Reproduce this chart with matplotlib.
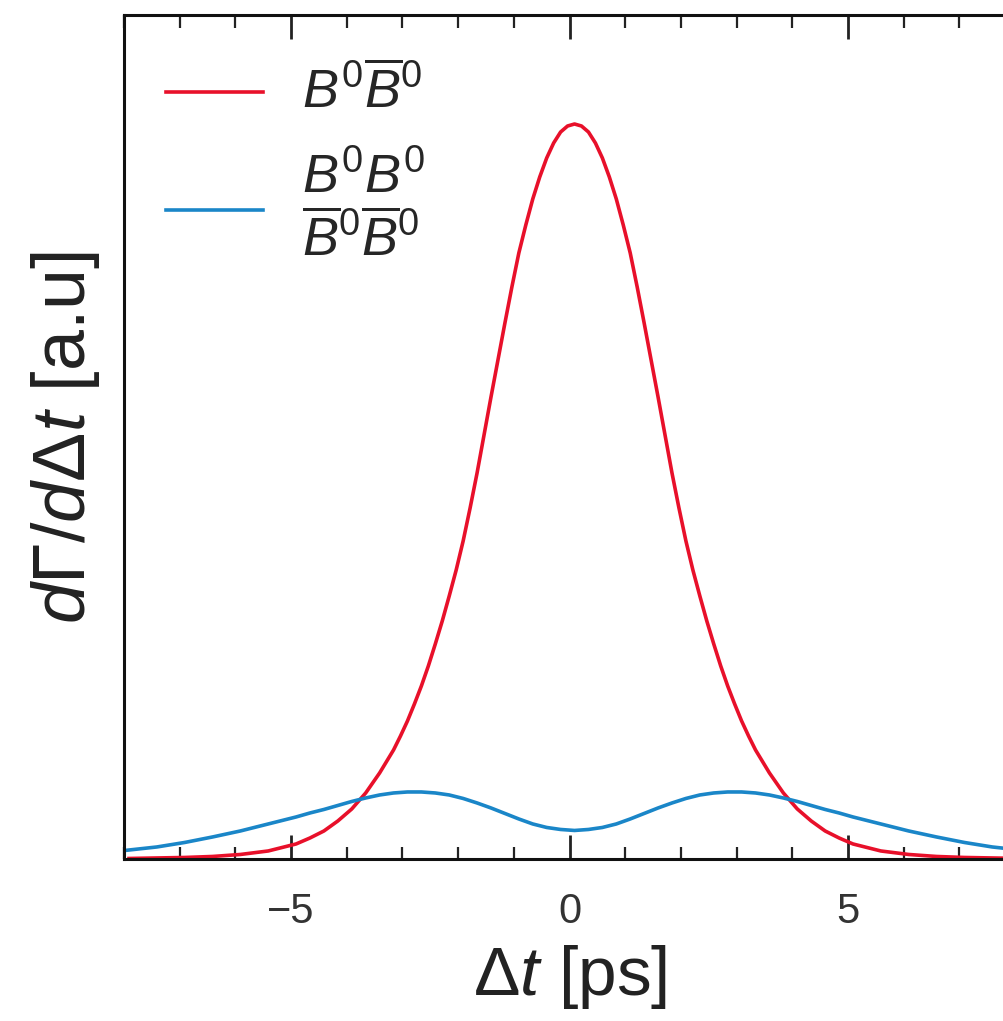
import matplotlib
matplotlib.use("Agg")
import matplotlib.pyplot as plt
from matplotlib.ticker import MultipleLocator
from matplotlib.legend_handler import HandlerLine2D

plt.rcParams['font.family'] = ['Liberation Sans', 'DejaVu Sans']
plt.rcParams['mathtext.fontset'] = 'custom'
plt.rcParams['mathtext.rm'] = 'Liberation Sans'
plt.rcParams['mathtext.it'] = 'Liberation Sans:italic'
plt.rcParams['mathtext.bf'] = 'Liberation Sans:bold'

# values (arbitrary units), curves peak near dt = 0.09 ps
t_mix = [-7.91, -6.91, -6.41, -5.91, -5.41, -4.91, -4.66, -4.41, -4.16, -3.91,
         -3.66, -3.41, -3.16, -3.035, -2.91, -2.785, -2.66, -2.535, -2.41,
         -2.285, -2.16, -2.035, -1.91, -1.785, -1.66, -1.41, -1.16, -1.035,
         -0.91, -0.785, -0.66, -0.535, -0.41, -0.285, -0.16, -0.035, 0.09,
         0.215, 0.34, 0.465, 0.59, 0.715, 0.84, 0.965, 1.09, 1.215, 1.34,
         1.59, 1.84, 1.965, 2.09, 2.215, 2.34, 2.465, 2.59, 2.715, 2.84,
         2.965, 3.09, 3.215, 3.34, 3.59, 3.84, 4.09, 4.34, 4.59, 4.84,
         5.09, 5.59, 6.09, 6.59, 7.09, 8.0]
rate_unmixed = [0.5, 1.5, 2.5, 4.5, 8, 15, 21, 28, 38, 50,
                66, 86, 109, 123, 138, 155, 173, 193, 215,
                238, 263, 289, 318, 351, 386, 462, 536, 572,
                606, 634, 660, 682, 701, 716, 727, 733, 735,
                733, 727, 716, 701, 682, 660, 634, 606, 572, 536,
                462, 386, 351, 318, 289, 263, 238, 215, 193, 173,
                155, 138, 123, 109, 86, 66, 50, 38, 28, 21,
                15, 8, 4.5, 2.5, 1.5, 0.6]

t_same = [-8.0, -7.41, -6.91, -6.41, -5.91, -5.41, -4.91, -4.66, -4.41, -4.16,
          -3.91, -3.66, -3.41, -3.16, -2.91, -2.66, -2.41, -2.16, -1.91,
          -1.66, -1.41, -1.16, -0.91, -0.66, -0.41, -0.16, 0.09, 0.34, 0.59,
          0.84, 1.09, 1.34, 1.59, 1.84, 2.09, 2.34, 2.59, 2.84, 3.09, 3.34,
          3.59, 3.84, 4.09, 4.34, 4.59, 4.84, 5.09, 5.59, 6.09, 6.59, 7.09,
          7.59, 8.0]
rate_same = [8.4, 12, 16.5, 22, 28, 35, 42, 46, 49.5, 53.5,
             57.5, 61, 64, 66, 67, 67, 66, 64, 60.5,
             56, 51, 45.5, 40, 35, 31.5, 29.5, 28.5, 29.5, 31.5,
             35, 40, 45.5, 51, 56, 60.5, 64, 66, 67, 67, 66,
             64, 61, 57.5, 53.5, 49.5, 46, 42, 35, 28, 22, 16.5,
             12, 9.5]

label_unmixed = r"$B^0\overline{B}^0$"
label_same = "$B^0B^0$\n" + r"$\overline{B}^0\overline{B}^0$"


class LoweredLine(HandlerLine2D):
    """legend line drawn a bit below the text centre (as in the original)"""
    def create_artists(self, legend, orig_handle, xdescent, ydescent,
                       width, height, fontsize, trans):
        return super().create_artists(legend, orig_handle, xdescent, ydescent + 5,
                                      width, height, fontsize, trans)


fig = plt.figure(figsize=(10.04, 10.21), dpi=100)
ax = fig.add_axes([0.1235, 0.1587, 0.8875, 0.8266])

l1, = ax.plot(t_mix, rate_unmixed, color='#e8102a', lw=2.6, label=label_unmixed)
l2, = ax.plot(t_same, rate_same, color='#1a86c8', lw=2.6, label=label_same)

ax.set_xlim(-8, 8)
ax.set_ylim(0, 844)
ax.set_yticks([])
ax.xaxis.set_major_locator(MultipleLocator(5))
ax.xaxis.set_minor_locator(MultipleLocator(1))
ax.tick_params(axis='x', which='both', direction='in', top=True, labelsize=30,
               pad=24, colors='#222222', labelcolor='#333333')
ax.tick_params(axis='x', which='major', length=17, width=2)
ax.tick_params(axis='x', which='minor', length=9, width=1.6)
for s in ax.spines.values():
    s.set_linewidth(2.2)
    s.set_color('#111111')

ax.set_xlabel(r"$\Delta t$ [ps]", fontsize=50, color='#222222', labelpad=8)
ax.set_ylabel(r"$d\Gamma/d\Delta t$ [a.u]", fontsize=53, color='#222222', labelpad=16)

leg = ax.legend(loc='upper left', frameon=False, fontsize=39, handlelength=1.8,
                handletextpad=0.72, labelspacing=0.63, borderaxespad=0.37,
                bbox_to_anchor=(0.0, 0.991), handler_map={l1: LoweredLine()})
for txt in leg.get_texts():
    txt.set_color('#262626')

fig.savefig("out.png", dpi=100)
